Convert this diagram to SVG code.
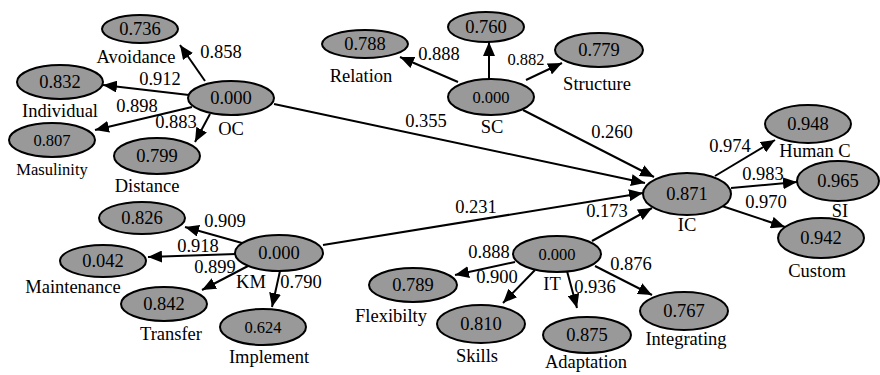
<svg xmlns="http://www.w3.org/2000/svg" width="880" height="375" viewBox="0 0 880 375">
<defs>
<marker id="ah" markerUnits="userSpaceOnUse" markerWidth="14" markerHeight="12" refX="14" refY="6" orient="auto">
<path d="M0,0 L14,6 L0,12 z" fill="#000"/>
</marker>
<style>
ellipse{fill:#999;stroke:#000;stroke-width:2}
text{font-family:"Liberation Serif","Times New Roman",serif;font-size:18.5px;fill:#000;text-anchor:middle}
.s{font-size:16.5px}
#edges line{stroke:#000;stroke-width:2;marker-end:url(#ah)}
</style>
</defs>
<rect width="880" height="375" fill="#fff"/>
<g id="edges">
<line x1="205" y1="81" x2="180" y2="45"/>
<line x1="189" y1="95" x2="103" y2="85"/>
<line x1="192" y1="107" x2="95" y2="130"/>
<line x1="210" y1="114" x2="195" y2="142"/>
<line x1="274" y1="104" x2="645" y2="183"/>
<line x1="458" y1="82" x2="400" y2="57"/>
<line x1="489" y1="79" x2="489" y2="42"/>
<line x1="526" y1="80" x2="562" y2="63"/>
<line x1="523" y1="110" x2="654" y2="177"/>
<line x1="715" y1="176" x2="775" y2="140"/>
<line x1="731" y1="188" x2="797" y2="182"/>
<line x1="722" y1="206" x2="785" y2="227"/>
<line x1="242" y1="243" x2="185" y2="227"/>
<line x1="236" y1="254" x2="148" y2="257"/>
<line x1="248" y1="266" x2="202" y2="290"/>
<line x1="280" y1="271" x2="272" y2="307"/>
<line x1="323" y1="245" x2="643" y2="193"/>
<line x1="515" y1="262" x2="455" y2="275"/>
<line x1="535" y1="270" x2="503" y2="303"/>
<line x1="567" y1="271" x2="577" y2="308"/>
<line x1="595" y1="266" x2="652" y2="295"/>
<line x1="592" y1="241" x2="652" y2="208"/>
</g>
<g id="edge-labels">
<text x="221" y="58">0.858</text>
<text x="160" y="85">0.912</text>
<text x="137" y="112">0.898</text>
<text x="176" y="128">0.883</text>
<text x="439" y="60">0.888</text>
<text class="s" x="526" y="65">0.882</text>
<text x="426" y="127">0.355</text>
<text x="612" y="138">0.260</text>
<text x="730" y="152">0.974</text>
<text x="763" y="180">0.983</text>
<text x="766" y="208">0.970</text>
<text x="476" y="213">0.231</text>
<text x="607" y="217">0.173</text>
<text x="225" y="227">0.909</text>
<text x="198" y="252">0.918</text>
<text x="215" y="273">0.899</text>
<text x="301" y="288">0.790</text>
<text x="489" y="258">0.888</text>
<text x="497" y="283">0.900</text>
<text x="595" y="293">0.936</text>
<text x="631" y="270">0.876</text>
</g>
<g id="avoidance"><ellipse cx="140" cy="29" rx="38" ry="14"/><text x="140" y="35">0.736</text><text x="136" y="63">Avoidance</text></g>
<g id="individual"><ellipse cx="60" cy="82" rx="43" ry="17"/><text x="60" y="88">0.832</text><text x="60" y="117">Individual</text></g>
<g id="masulinity"><ellipse cx="52" cy="140" rx="43" ry="17"/><text class="s" x="52" y="146">0.807</text><text class="s" x="52" y="175">Masulinity</text></g>
<g id="distance"><ellipse cx="157" cy="156" rx="43" ry="18"/><text x="157" y="162">0.799</text><text x="147" y="192">Distance</text></g>
<g id="oc"><ellipse cx="231" cy="98" rx="43" ry="17"/><text x="231" y="104">0.000</text><text x="231" y="135">OC</text></g>
<g id="relation"><ellipse cx="365" cy="44" rx="43" ry="14"/><text x="365" y="50">0.788</text><text x="361" y="82">Relation</text></g>
<g id="sc-760"><ellipse cx="486" cy="27" rx="38" ry="15"/><text x="486" y="33">0.760</text></g>
<g id="structure"><ellipse cx="599" cy="50" rx="44" ry="17"/><text x="599" y="56">0.779</text><text x="597" y="90">Structure</text></g>
<g id="sc"><ellipse cx="491" cy="97" rx="43" ry="18"/><text class="s" x="491" y="103">0.000</text><text x="492" y="133">SC</text></g>
<g id="ic"><ellipse cx="687" cy="194" rx="44" ry="21"/><text x="687" y="200">0.871</text><text x="687" y="231">IC</text></g>
<g id="humanc"><ellipse cx="808" cy="124" rx="43" ry="19"/><text x="808" y="130">0.948</text><text x="815" y="157">Human C</text></g>
<g id="si"><ellipse cx="838" cy="181" rx="41" ry="20"/><text x="838" y="187">0.965</text><text x="840" y="217">SI</text></g>
<g id="custom"><ellipse cx="821" cy="238" rx="43" ry="20"/><text x="821" y="244">0.942</text><text x="817" y="277">Custom</text></g>
<g id="km-826"><ellipse cx="142" cy="218" rx="43" ry="16"/><text x="142" y="224">0.826</text></g>
<g id="maintenance"><ellipse cx="103" cy="261" rx="43" ry="16"/><text x="103" y="267">0.042</text><text x="73" y="293">Maintenance</text></g>
<g id="km"><ellipse cx="279" cy="253" rx="44" ry="18"/><text x="279" y="259">0.000</text><text x="251" y="288">KM</text></g>
<g id="transfer"><ellipse cx="164" cy="304" rx="43" ry="17"/><text x="164" y="310">0.842</text><text x="171" y="340">Transfer</text></g>
<g id="implement"><ellipse cx="263" cy="327" rx="43" ry="18"/><text class="s" x="263" y="333">0.624</text><text x="269" y="363">Implement</text></g>
<g id="it"><ellipse cx="557" cy="254" rx="44" ry="18"/><text class="s" x="557" y="260">0.000</text><text x="552" y="290">IT</text></g>
<g id="flexibilty"><ellipse cx="413" cy="285" rx="44" ry="17"/><text x="413" y="291">0.789</text><text x="391" y="322">Flexibilty</text></g>
<g id="skills"><ellipse cx="481" cy="324" rx="44" ry="19"/><text x="481" y="330">0.810</text><text x="477" y="362">Skills</text></g>
<g id="adaptation"><ellipse cx="587" cy="335" rx="44" ry="18"/><text x="587" y="341">0.875</text><text x="586" y="368">Adaptation</text></g>
<g id="integrating"><ellipse cx="684" cy="311" rx="44" ry="19"/><text x="684" y="317">0.767</text><text x="686" y="345">Integrating</text></g>
</svg>
